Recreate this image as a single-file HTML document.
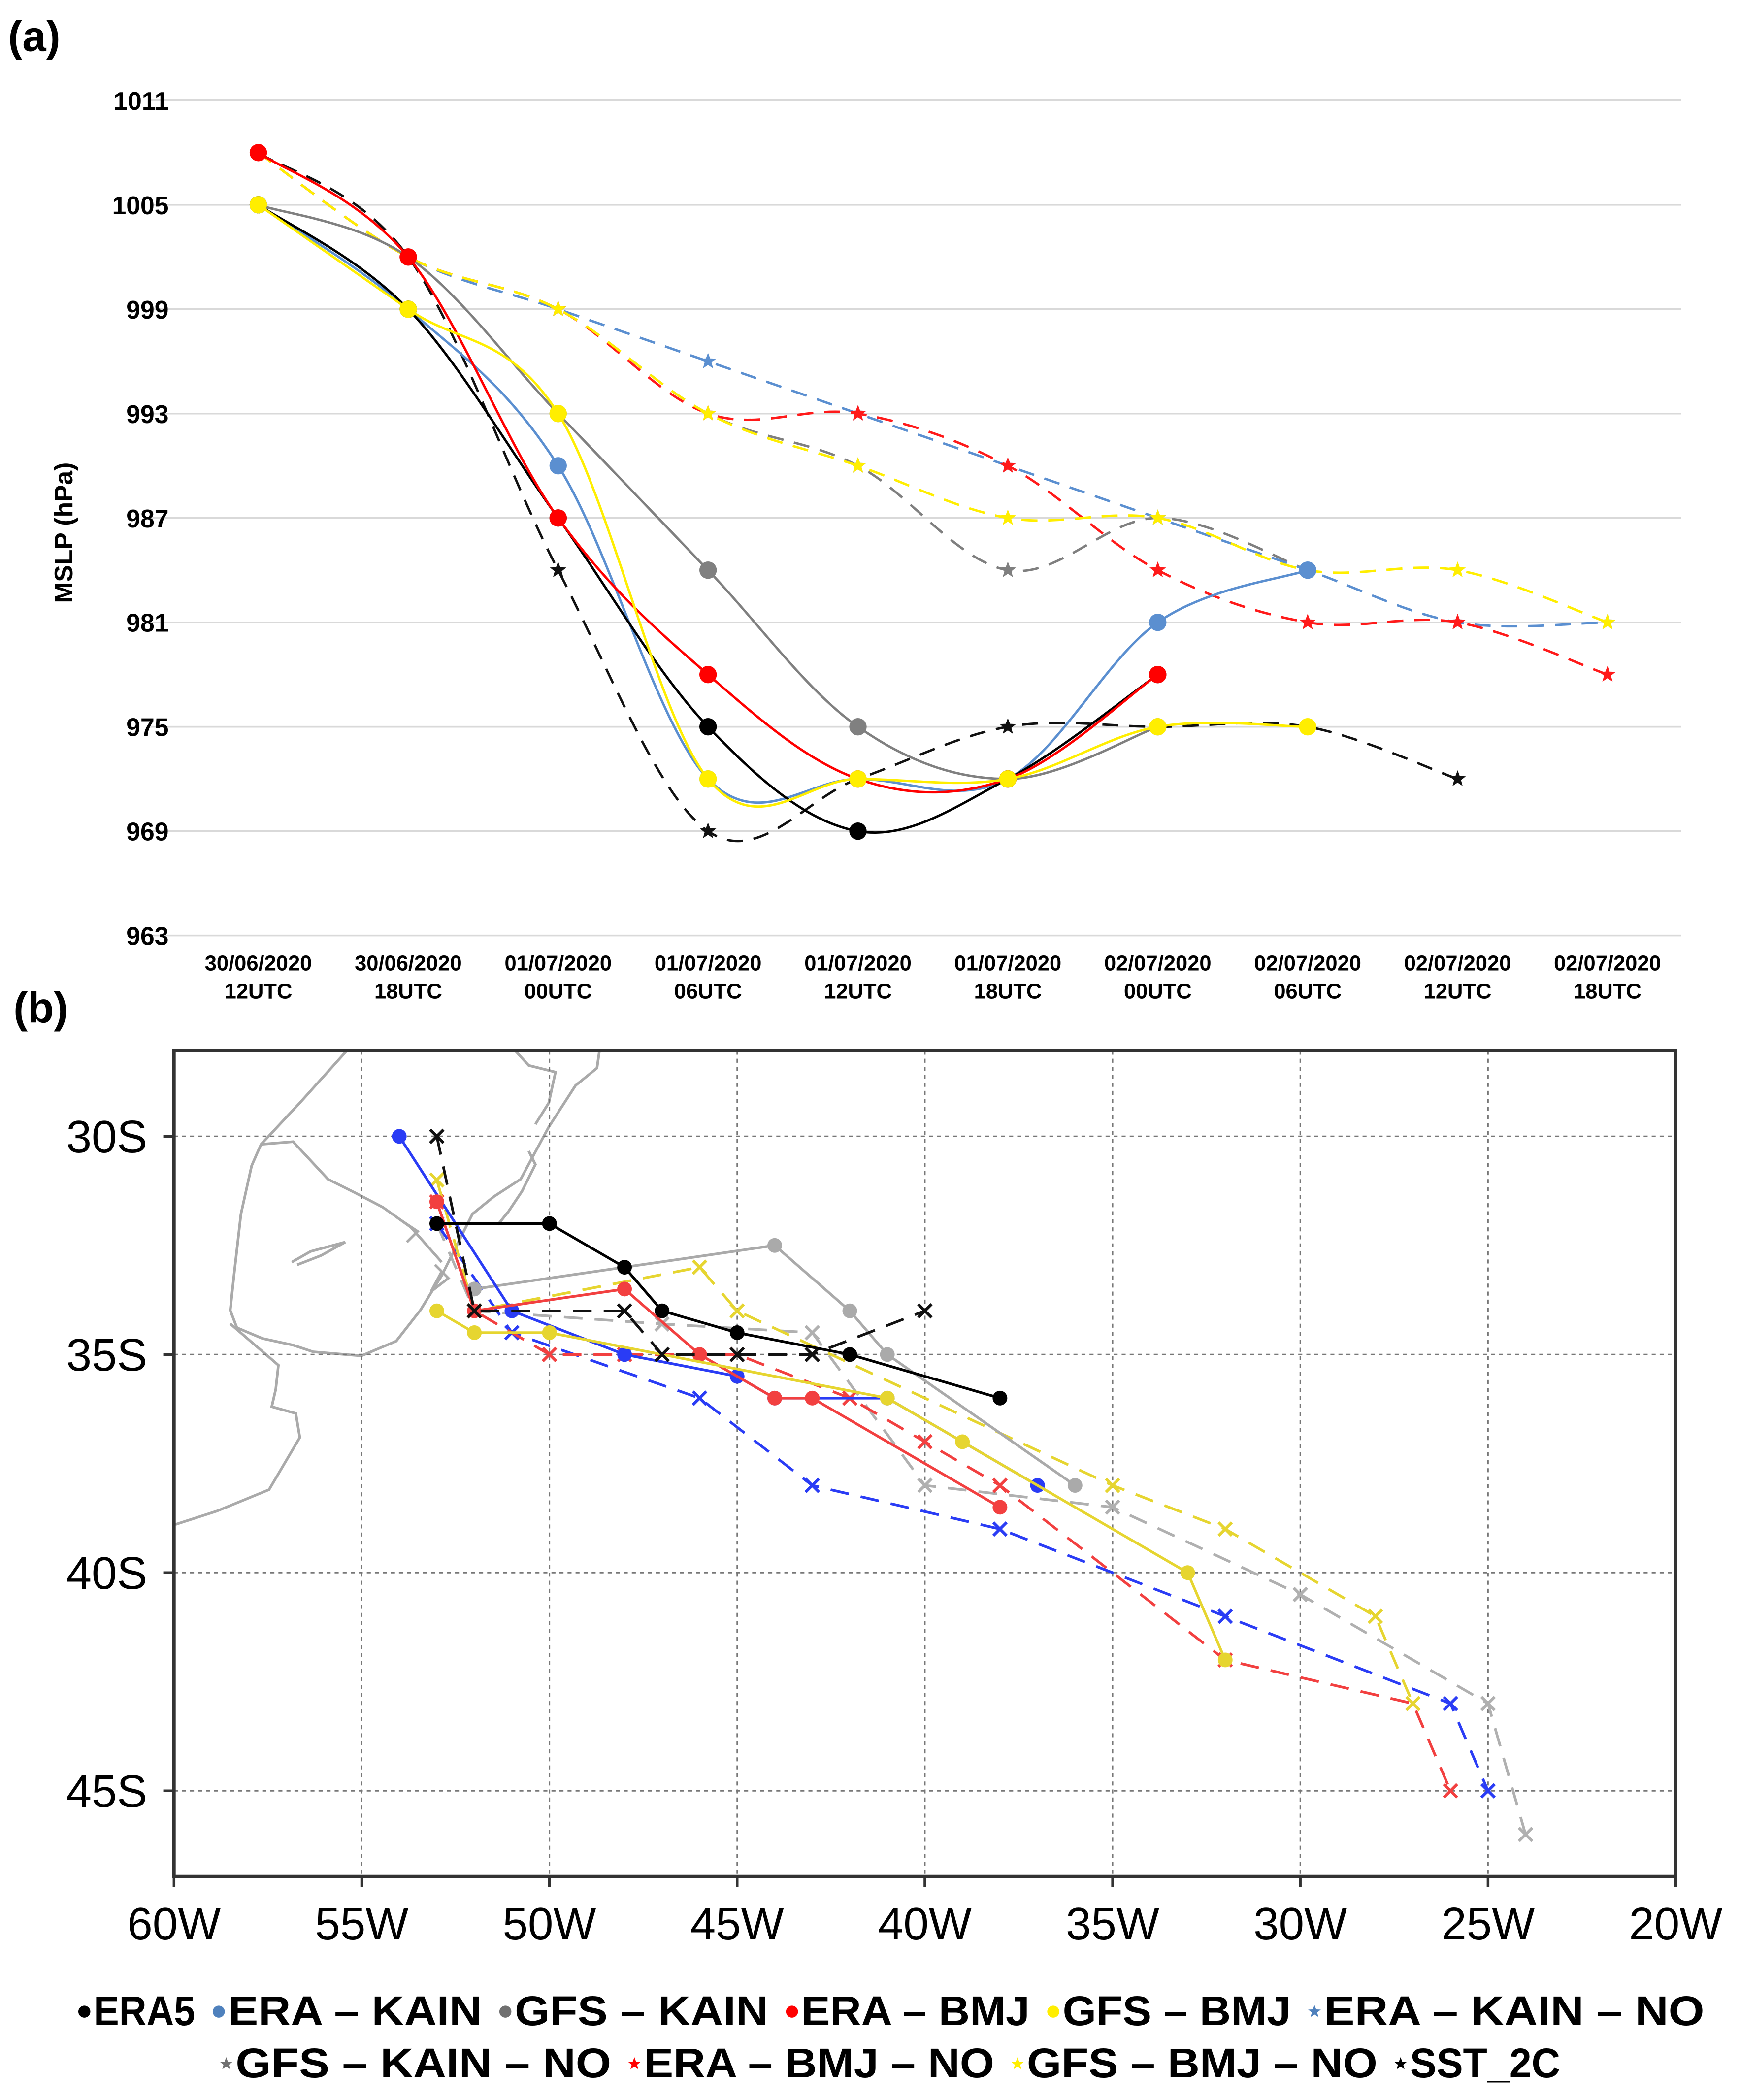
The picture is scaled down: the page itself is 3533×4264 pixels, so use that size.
<!DOCTYPE html>
<html><head><meta charset="utf-8"><style>
html,body{margin:0;padding:0;background:#fff}
svg{display:block}
text{font-family:"Liberation Sans",Arial,sans-serif}
</style></head><body>
<svg id="fig" width="3533" height="4264" viewBox="0 0 1300 1569" xmlns="http://www.w3.org/2000/svg">
<rect x="0" y="0" width="1300" height="1569" fill="#fff"/>
<text x="6" y="38" font-size="32" font-weight="bold">(a)</text>
<text x="10" y="764" font-size="32" font-weight="bold">(b)</text>
<g id="chartA"></g>
<g id="chartB"></g>
<g id="legend"></g>
</svg>
<script>
// ---------- Panel (a) data ----------
const times = ["30/06/2020|12UTC","30/06/2020|18UTC","01/07/2020|00UTC","01/07/2020|06UTC","01/07/2020|12UTC","01/07/2020|18UTC","02/07/2020|00UTC","02/07/2020|06UTC","02/07/2020|12UTC","02/07/2020|18UTC"];
const yTicks = [963,969,975,981,987,993,999,1005,1011];
const era5 = [1005,999,987,975,969,972,978];
const eraKain = [1005,999,990,972,972,972,981,984];
const gfsKain = [1005,1002,993,984,975,972,975];
const eraBmj = [1008,1002,987,978,972,972,978];
const gfsBmj = [1005,999,993,972,972,972,975,975];
const eraKainNo = [1008,1002,999,996,993,990,987,984,981,981];
const gfsKainNo = [1008,1002,999,993,990,984,987,984];
const eraBmjNo = [1008,1002,999,993,993,990,984,981,981,978];
const gfsBmjNo = [1008,1002,999,993,990,987,987,984,984,981];
const sst2c = [1008,1002,984,969,972,975,975,975,972];

// ---------- Panel (b) data (lon E negative, lat N negative) ----------
const lonTicks = [-60,-55,-50,-45,-40,-35,-30,-25,-20];
const latTicks = [-30,-35,-40,-45];
const trkEra5Lon = [-53,-50,-48,-47,-45,-42,-38];
const trkEra5Lat = [-32,-32,-33,-34,-34.5,-35,-36];
const trkEraKainLon = [-54,-51,-48,-45,-44,-41,-37];
const trkEraKainLat = [-30,-34,-35,-35.5,-36,-36,-38];
const trkGfsKainLon = [-52,-44,-42,-41,-36];
const trkGfsKainLat = [-33.5,-32.5,-34,-35,-38];
const trkEraBmjLon = [-53,-52,-48,-46,-44,-43,-38];
const trkEraBmjLat = [-31.5,-34,-33.5,-35,-36,-36,-38.5];
const trkGfsBmjLon = [-53,-52,-50,-41,-39,-33,-32];
const trkGfsBmjLat = [-34,-34.5,-34.5,-36,-37,-40,-42];
const trkEraKainNoLon = [-53,-51,-46,-43,-38,-32,-26,-25];
const trkEraKainNoLat = [-32,-34.5,-36,-38,-39,-41,-43,-45];
const trkGfsKainNoLon = [-53,-52,-47,-43,-40,-35,-30,-25,-24];
const trkGfsKainNoLat = [-32,-34,-34.3,-34.5,-38,-38.5,-40.5,-43,-46];
const trkEraBmjNoLon = [-53,-52,-50,-48,-45,-42,-40,-38,-32,-27,-26];
const trkEraBmjNoLat = [-31.5,-34,-35,-35,-35,-36,-37,-38,-42,-43,-45];
const trkGfsBmjNoLon = [-53,-52,-46,-45,-35,-32,-28,-27];
const trkGfsBmjNoLat = [-31,-34,-33,-34,-38,-39,-41,-43];
const trkSstLon = [-53,-52,-48,-47,-45,-43,-40];
const trkSstLat = [-30,-34,-34,-35,-35,-35,-34];

const NS="http://www.w3.org/2000/svg";
function mk(tag,attrs,parent){const e=document.createElementNS(NS,tag);for(const k in attrs)e.setAttribute(k,attrs[k]);parent.appendChild(e);return e;}

// ---------- Panel (a) ----------
const A=document.getElementById('chartA');
const xA=i=>193+i*112;
const yA=v=>75+(1011-v)*13;
yTicks.forEach(t=>{
  const l=mk('line',{x1:112,x2:1256,y1:yA(t),y2:yA(t),stroke:'#d9d9d9','stroke-width':1.3},A);
  
  
  const tx=mk('text',{x:126,y:yA(t)+7,'font-size':19,'font-weight':'bold','text-anchor':'end'},A);
  tx.textContent=t;
  
  
});
times.forEach((t,i)=>{
  const p=t.split('|');
  const g=mk('text',{x:xA(i),y:725,'font-size':16,'font-weight':'bold','text-anchor':'middle'},A);
  
  
  mk('tspan',{x:xA(i),dy:0},g).textContent=p[0];
  mk('tspan',{x:xA(i),dy:21},g).textContent=p[1];
});
const yt=mk('text',{x:0,y:0,'font-size':19,'font-weight':'bold','text-anchor':'middle',transform:'translate(54,398) rotate(-90)'},A);
yt.textContent='MSLP (hPa)';



function smoothPath(pts){
  let d='M'+pts[0][0]+','+pts[0][1];
  for(let i=0;i<pts.length-1;i++){
    const p0=pts[i-1]||pts[i],p1=pts[i],p2=pts[i+1],p3=pts[i+2]||p2;
    const t=0.17;
    const c1=[p1[0]+(p2[0]-p0[0])*t,p1[1]+(p2[1]-p0[1])*t];
    const c2=[p2[0]-(p3[0]-p1[0])*t,p2[1]-(p3[1]-p1[1])*t];
    d+=' C'+c1[0]+','+c1[1]+' '+c2[0]+','+c2[1]+' '+p2[0]+','+p2[1];
  }
  return d;
}
function starPts(cx,cy,r){let s='';for(let k=0;k<10;k++){const a=-Math.PI/2+k*Math.PI/5;const rr=k%2?r*0.42:r;s+=(cx+rr*Math.cos(a)).toFixed(2)+','+(cy+rr*Math.sin(a)).toFixed(2)+' ';}return s;}
const seriesA=[
  {n:'gfs-kain-no',v:gfsKainNo,c:'#7f7f7f',dash:true},
  {n:'era-kain-no',v:eraKainNo,c:'#5b8fd0',dash:true},
  {n:'era-bmj-no',v:eraBmjNo,c:'#ff1a1a',dash:true},
  {n:'gfs-bmj-no',v:gfsBmjNo,c:'#ffee00',dash:true},
  {n:'sst-2c',v:sst2c,c:'#111',dash:true},
  {n:'gfs-kain',v:gfsKain,c:'#808080'},
  {n:'era-kain',v:eraKain,c:'#5b8fd0'},
  {n:'era5',v:era5,c:'#000'},
  {n:'era-bmj',v:eraBmj,c:'#ff0000'},
  {n:'gfs-bmj',v:gfsBmj,c:'#ffee00'}
];
seriesA.forEach(s=>{
  const g=mk('g',{},A);
  
  
  const pts=s.v.map((v,i)=>[xA(i),yA(v)]);
  const p=mk('path',{d:smoothPath(pts),fill:'none',stroke:s.c,'stroke-width':1.8},g);
  if(s.dash)p.setAttribute('stroke-dasharray','12,8');
  
  
  pts.forEach((q,i)=>{
    let m;
    if(s.dash){m=mk('polygon',{points:starPts(q[0],q[1],6.5),fill:s.c},g);}
    else{m=mk('circle',{cx:q[0],cy:q[1],r:6.5,fill:s.c},g);}
    
    
  });
});

// ---------- Panel (b) ----------
const B=document.getElementById('chartB');
const xB=lon=>130+(lon+60)*28.05;
const yB=lat=>849+(-30-lat)*32.6;
mk('rect',{x:130,y:785,width:1122,height:617,fill:'#fff'},B);
const coast=[
 "M260,784 L224,824 L195,855 L188,871 L180,907 L175,951 L172,979 L177,992 L196,1000 L219,1005 L234,1010 L270,1013 L296,1002 L314,979 L330,953 L343,927 L353,907 L369,894 L389,881 L410,842 L430,811 L446,798 L448,784",
 "M172,989 L208,1020 L206,1038 L203,1051 L221,1056 L224,1074 L201,1113 L162,1129 L131,1139",
 "M195,855 L219,853 L245,881 L265,891 L286,902 L307,917 L330,943",
 "M384,784 L395,796 L415,801 L410,824 L400,840",
 "M218,943 L232,935 L258,928 L240,938 L222,945",
 "M300,912 L312,920 L304,928 M325,945 L335,955 L322,965 L330,950",
 "M395,860 L400,870 L390,890 L380,905 L372,915"
];
coast.forEach((d,i)=>{
  const p=mk('path',{d:d,fill:'none',stroke:'#aaaaaa','stroke-width':2},B);
  
  
});
lonTicks.forEach(t=>{
  if(t>-60&&t<-20){const l=mk('line',{x1:xB(t),x2:xB(t),y1:785,y2:1402,stroke:'#777','stroke-width':1.1,'stroke-dasharray':'3,3'},B);
  
  }
  const tx=mk('text',{x:xB(t),y:1449,'font-size':34,'text-anchor':'middle'},B);
  tx.textContent=(-t)+'W';
  
  
  const tk=mk('line',{x1:xB(t),x2:xB(t),y1:1402,y2:1410,stroke:'#333','stroke-width':2},B);
  
  
});
latTicks.forEach(t=>{
  const l=mk('line',{x1:130,x2:1252,y1:yB(t),y2:yB(t),stroke:'#777','stroke-width':1.1,'stroke-dasharray':'3,3'},B);
  
  
  const tx=mk('text',{x:110,y:yB(t)+12,'font-size':34,'text-anchor':'end'},B);
  tx.textContent=(-t)+'S';
  
  
  const tk=mk('line',{x1:122,x2:130,y1:yB(t),y2:yB(t),stroke:'#333','stroke-width':2},B);
  
  
});
const tracks=[
  {n:'gfs-kain-no',lo:trkGfsKainNoLon,la:trkGfsKainNoLat,c:'#b0b0b0',dash:true},
  {n:'era-kain-no',lo:trkEraKainNoLon,la:trkEraKainNoLat,c:'#2a3cf5',dash:true},
  {n:'era-bmj-no',lo:trkEraBmjNoLon,la:trkEraBmjNoLat,c:'#f24040',dash:true},
  {n:'gfs-bmj-no',lo:trkGfsBmjNoLon,la:trkGfsBmjNoLat,c:'#e6d530',dash:true},
  {n:'gfs-kain',lo:trkGfsKainLon,la:trkGfsKainLat,c:'#aaaaaa'},
  {n:'era-kain',lo:trkEraKainLon,la:trkEraKainLat,c:'#2a3cf5'},
  {n:'era-bmj',lo:trkEraBmjLon,la:trkEraBmjLat,c:'#f24040'},
  {n:'gfs-bmj',lo:trkGfsBmjLon,la:trkGfsBmjLat,c:'#e6d530'},
  {n:'sst-2c',lo:trkSstLon,la:trkSstLat,c:'#111',dash:true},
  {n:'era5',lo:trkEra5Lon,la:trkEra5Lat,c:'#000'}
];
tracks.forEach(s=>{
  const g=mk('g',{},B);
  
  
  const pts=s.lo.map((lo,i)=>[xB(lo),yB(s.la[i])]);
  const p=mk('polyline',{points:pts.map(q=>q.join(',')).join(' '),fill:'none',stroke:s.c,'stroke-width':2},g);
  if(s.dash)p.setAttribute('stroke-dasharray','14,9');
  
  
  pts.forEach((q,i)=>{
    let m;
    if(s.dash){m=mk('path',{d:`M${q[0]-5},${q[1]-5} L${q[0]+5},${q[1]+5} M${q[0]+5},${q[1]-5} L${q[0]-5},${q[1]+5}`,stroke:s.c,'stroke-width':2.2},g);}
    else{m=mk('circle',{cx:q[0],cy:q[1],r:5.5,fill:s.c},g);}
    
    
  });
});
const fr=mk('rect',{x:130,y:785,width:1122,height:617,fill:'none',stroke:'#333','stroke-width':2.5},B);



// ---------- Legend ----------
const L=document.getElementById('legend');
const legRows=[
  {y:1513,x0:62,x1:1290,items:[['ERA5','#000','c'],['ERA – KAIN','#4f81bd','c'],['GFS – KAIN','#707070','c'],['ERA – BMJ','#ff0000','c'],['GFS – BMJ','#ffee00','c'],['ERA – KAIN – NO','#4f81bd','s']]},
  {y:1552,x0:168,x1:1182,items:[['GFS – KAIN – NO','#707070','s'],['ERA – BMJ – NO','#ff0000','s'],['GFS – BMJ – NO','#ffee00','s'],['SST_2C','#000','s']]}
];
legRows.forEach((r,ri)=>{
  const total=r.items.reduce((a,it)=>a+it[0].length,0)+r.items.length*1.3;
  const unit=(r.x1-r.x0)/total;
  let x=r.x0;
  r.items.forEach((it,k)=>{
    const g=mk('g',{},L);
    
    
    if(it[2]==='c')mk('circle',{cx:x+1,cy:r.y-10,r:4.5,fill:it[1]},g);
    else mk('polygon',{points:starPts(x+1,r.y-10,5),fill:it[1]},g);
    const w=it[0].length*unit;
    const t=mk('text',{x:x+8,y:r.y,'font-size':31,'font-weight':'bold',textLength:w,lengthAdjust:'spacingAndGlyphs'},g);
    t.textContent=it[0];
    x+=w+1.3*unit;
  });
});
</script>
</body></html>
